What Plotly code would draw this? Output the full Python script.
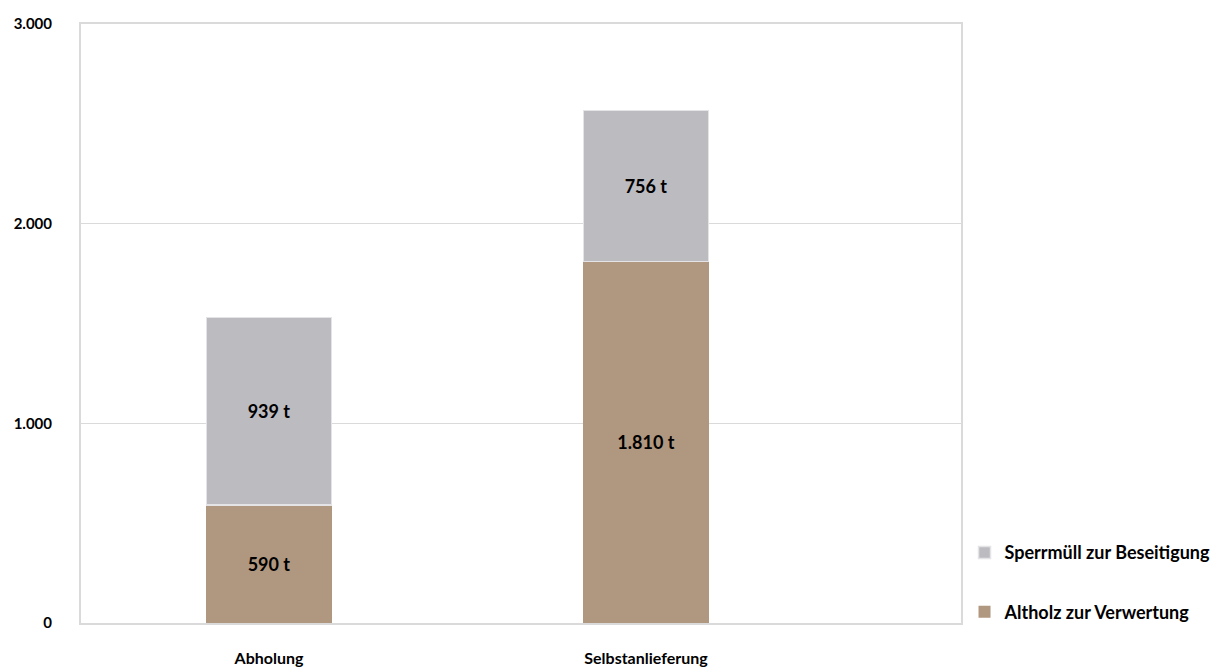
import plotly.graph_objects as go

categories = ["Abholung", "Selbstanlieferung"]
altholz = [590, 1810]
sperrmuell = [939, 756]
altholz_labels = ["590 t", "1.810 t"]
sperrmuell_labels = ["939 t", "756 t"]
y_ticks = [0, 1000, 2000, 3000]
y_tick_labels = ["0", "1.000", "2.000", "3.000"]

FONT = "Lato"
BROWN = "#B0977F"
GREY = "#BCBBC0"
FRAME = "#DADADA"
positions = list(range(len(categories)))

fig = go.Figure()
fig.add_trace(go.Bar(
    x=positions, y=altholz, name="Altholz zur Verwertung",
    marker=dict(color=BROWN, line=dict(color=BROWN, width=0)),
    text=altholz_labels, textposition="inside", insidetextanchor="middle",
    textfont=dict(family=FONT, size=18, color="black", weight="bold"),
    width=0.332, legendgroup="a", legendrank=2,
))
fig.add_trace(go.Bar(
    x=positions, y=sperrmuell, name="Sperrmüll zur Beseitigung",
    marker=dict(color=GREY, line=dict(color="#E4E4E6", width=1.5)),
    text=sperrmuell_labels, textposition="inside", insidetextanchor="middle",
    textfont=dict(family=FONT, size=18, color="black", weight="bold"),
    width=0.332, legendgroup="b", legendrank=1,
))

fig.update_layout(
    barmode="stack",
    width=1229, height=668,
    margin=dict(l=81, r=268, t=24, b=45, autoexpand=False),
    paper_bgcolor="white", plot_bgcolor="white",
    font=dict(family=FONT, color="black"),
    uniformtext=dict(mode=False),
    legend=dict(
        x=1.004, y=-0.012, xanchor="left", yanchor="bottom",
        font=dict(family=FONT, size=18, color="black", weight="bold"),
        tracegroupgap=33, itemwidth=30,
        bgcolor="rgba(0,0,0,0)",
    ),
    xaxis=dict(
        range=[-0.4987, 1.8355], tickmode="array",
        tickvals=positions, ticktext=categories,
        showgrid=False, zeroline=False, ticks="", automargin=False,
        showline=True, linecolor=FRAME, linewidth=2, mirror=True,
        tickfont=dict(family=FONT, size=16, color="black", weight="bold"),
        ticklabelstandoff=20,
    ),
    yaxis=dict(
        range=[0, 3000], tickmode="array",
        tickvals=y_ticks, ticktext=y_tick_labels,
        showgrid=True, gridcolor=FRAME, gridwidth=1,
        zeroline=False, ticks="", automargin=False,
        showline=True, linecolor=FRAME, linewidth=2, mirror=True,
        tickfont=dict(family=FONT, size=15, color="black", weight="bold"),
        ticklabelstandoff=24,
    ),
)

fig.write_html("out.html")
